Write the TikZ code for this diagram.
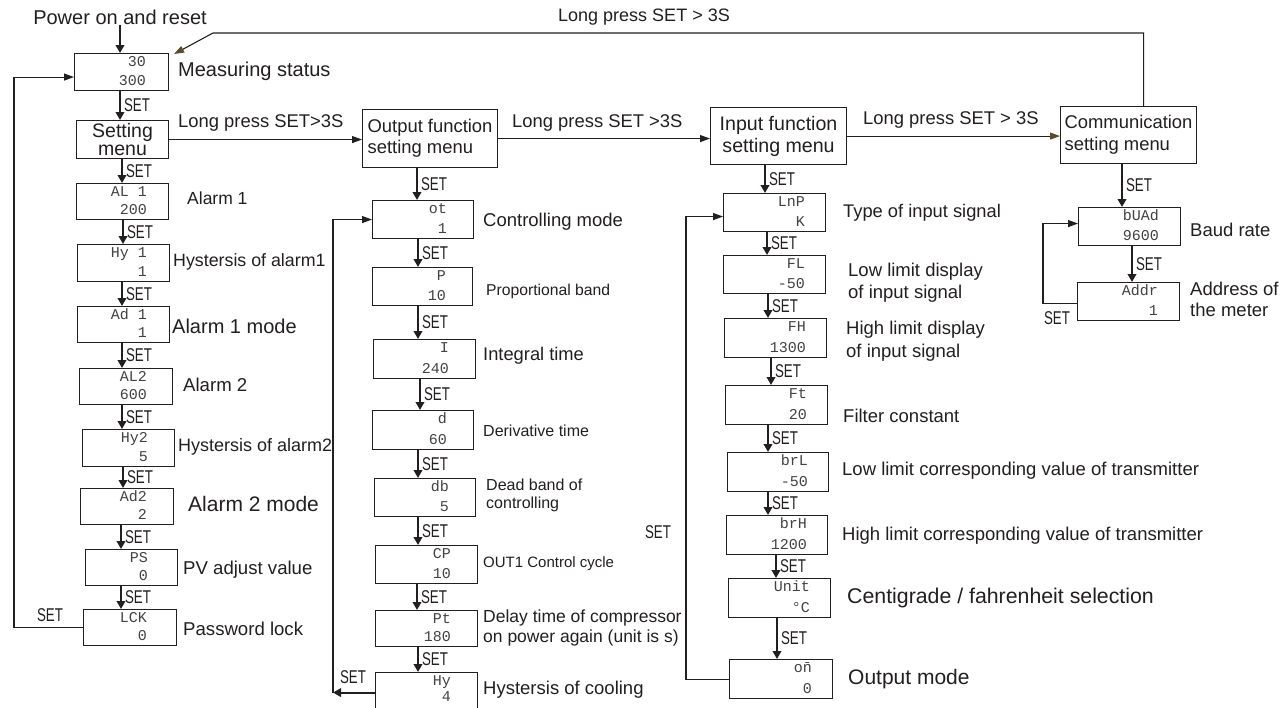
\documentclass[tikz,border=0pt]{standalone}
\usepackage{fontspec}
\setmainfont{Liberation Sans}
\newfontfamily\setfnt[FakeStretch=0.72]{Liberation Sans}
\newfontfamily\segfnt{Liberation Mono}
\usetikzlibrary{arrows.meta}
\newcommand\fs[2]{\fontsize{#1}{#2}\selectfont}
\definecolor{ink}{HTML}{231F20}
\definecolor{tipbrown}{HTML}{5B4A2B}
\tikzset{
  box/.style={draw=ink, line width=1.1pt, inner sep=0pt, anchor=north west, text=ink},
  seg/.style={inner sep=0pt, text=ink!85, font=\segfnt\fs{15}{15}},
  lbl/.style={inner sep=0pt, anchor=west, text=ink},
  setlbl/.style={inner sep=0pt, text=ink, font=\setfnt\fs{18.5}{18.5}},
  setarr/.style={draw=ink, line width=2pt, -{Triangle[length=8pt,width=8.5pt]}},
  thinarr/.style={draw=ink, line width=1.1pt, -{Triangle[length=10pt,width=7pt]}},
  brownarr/.style={draw=ink, line width=1.1pt, -{Triangle[length=10pt,width=7pt,fill=tipbrown,color=tipbrown]}},
  plain/.style={draw=ink, line width=1.1pt}
}
\begin{document}
\begin{tikzpicture}[x=1pt,y=-1pt]
\useasboundingbox[fill=white] (0,0) rectangle (1281,707);

% ---------- boxes ----------
\foreach \n/\x/\y/\w/\h in {
  ms/74/53/94/37, a1/76/183/92/36, h1/77/244/92/37, d1/77/306/92/36,
  a2/79/368/93/36, h2/82/429/92/37, d2/80/488/93/36, ps/85/549/92/36, lk/83/609/93/36,
  ot/372/200/101/38, pb/372/267/100/38, it/373/339/102/39, dt/372/410/101/39,
  db/374/478/101/38, cp/375/545/102/38, pt/375/610/102/36, hy/375/672/102/40,
  ln/723/193/102/38, fl/723/255/102/38, fh/724/318/102/39, ft/725/385/102/39,
  bl/727/452/101/39, bh/726/515/101/39, un/728/578/102/39, om/729/659/103/39,
  bd/1078/207/102/38, ad/1077/282/102/38}
  \node[box, minimum width=\w pt, minimum height=\h pt] (\n) at (\x,\y) {};

\node[box, minimum width=92pt, minimum height=38pt, align=center, font=\fs{19.5}{18}] (sm) at (76,120) {Setting\\menu};
\node[box, minimum width=135pt, minimum height=58pt, align=left, font=\fs{18.4}{21}] (of) at (362,109) {Output function\\setting menu};
\node[box, minimum width=136pt, minimum height=57pt, align=center, font=\fs{19.6}{22}] (if) at (710,107) {Input function\\setting menu};
\node[box, minimum width=136pt, minimum height=57pt, align=left, font=\fs{18.4}{22}] (cm) at (1060,106) {Communication\\setting menu};

% ---------- display texts (top line / bottom line, baselines from the box top) ----------
\foreach \n/\t/\b/\m/\bb in {
  ms/30/300/23/32, a1/AL 1/200/22/31, h1/Hy 1/1/23/32, d1/Ad 1/1/23/31, a2/AL2/600/26/31,
  h2/Hy2/5/27/32, d2/Ad2/2/27/31, ps/PS/0/30/31, lk/LCK/0/30/31,
  ot/ot/1/27/33, pb/P/10/27/33, it/I/240/27/34, dt/d/60/27/34, db/db/5/27/33, cp/CP/10/27/33,
  pt/Pt/180/27/31, hy/Hy/4/27/29,
  ln/LnP/K/21/33, fl/FL/-50/21/33, fh/FH/1300/21/34, ft/Ft/20/21/34, bl/brL/-50/21/34,
  bh/brH/1200/21/34, un/Unit/°C/21/34, om/{o\={n}}/0/21/34,
  bd/bUAd/9600/22/33, ad/Addr/1/22/33}
{
  \node[seg, anchor=base east] (\n-t) at ([xshift=-\m pt, yshift=-13pt]\n.north east) {\t};
  \node[seg, anchor=base east] (\n-b) at ([xshift=-\m pt, yshift=-\bb pt]\n.north east) {\b};
}

% ---------- SET arrows ----------
\node[inner sep=0pt, text=ink, font=\fs{20}{20}] (pw) at (120,17) {Power on and reset};
\draw[setarr] (pw.south) -- (pw.south |- ms.north);

\foreach \a/\b/\x in {
  ms/sm/120, sm/a1/122, a1/h1/123, h1/d1/122, d1/a2/122, a2/h2/122, h2/d2/123, d2/ps/121, ps/lk/121,
  of/ot/417, ot/pb/418, pb/it/418, it/dt/420, dt/db/418, db/cp/418, cp/pt/417, pt/hy/418,
  if/ln/765, ln/fl/767, fl/fh/768, fh/ft/771, ft/bl/768, bl/bh/768, bh/un/776, un/om/777,
  cm/bd/1122, bd/ad/1132}
  \draw[setarr] (\x,0 |- \a.south) -- node[setlbl, anchor=west, xshift=3pt] (set-\a) {SET} (\x,0 |- \b.north);

% ---------- loops ----------
\coordinate (l1) at (14,0);
\draw[thinarr] (lk.west) -- (lk.west -| l1) |- ([yshift=-5pt]ms.west);
\node[setlbl] (set-l1) at (50,615) {SET};

\coordinate (l2) at (333,0);
\draw[setarr] (hy.west) -- (hy.west -| l2);
\draw[thinarr] (hy.west -| l2) |- (ot.west);
\node[setlbl] (set-l2) at (353,677) {SET};

\coordinate (l3) at (686,0);
\draw[thinarr] (om.west) -- (om.west -| l3) |- ([yshift=-4pt]ln.west);
\node[setlbl] (set-l3) at (658,532) {SET};

\coordinate (l4) at (1043,0);
\draw[thinarr] ([yshift=-2pt]ad.west) -- ([yshift=-2pt]ad.west -| l4) |- ([yshift=3pt]bd.west);
\node[setlbl] (set-l4) at (1057,318) {SET};

% ---------- long press connectors ----------
\draw[thinarr] (sm.east) -- (sm.east -| of.west);
\node[lbl, font=\fs{18.4}{20}] (lp1) at (178,123) {Long press SET>3S};
\draw[thinarr] (of.east) -- (of.east -| if.west);
\node[lbl, font=\fs{18.4}{20}] (lp2) at (512,123) {Long press SET >3S};
\draw[brownarr] (if.east) -- (if.east -| cm.west);
\node[lbl, font=\fs{18.4}{20}] (lp3) at (863,120) {Long press SET > 3S};
\coordinate (t1) at (1143,33);
\coordinate (t2) at (213,33);
\draw[brownarr] ([xshift=15pt]cm.north) -- ([xshift=15pt]cm.north |- t1) -- (t2) -- ([xshift=5pt,yshift=-1pt]ms.north east);
\node[inner sep=0pt, text=ink, font=\fs{18}{20}] (lp4) at (644,17) {Long press SET > 3S};

% ---------- labels column 1 ----------
\node[lbl, font=\fs{20}{20}] (L-ms) at (178,71) {Measuring status};
\node[lbl, font=\fs{17.5}{20}] (L-a1) at (187,198) {Alarm 1};
\node[lbl, font=\fs{17.8}{20}] (L-h1) at (173,262) {Hystersis of alarm1};
\node[lbl, font=\fs{20}{20}] (L-d1) at (172,326) {Alarm 1 mode};
\node[lbl, font=\fs{18.6}{20}] (L-a2) at (183,385) {Alarm 2};
\node[lbl, font=\fs{18}{20}] (L-h2) at (178,447) {Hystersis of alarm2};
\node[lbl, font=\fs{21}{21}] (L-d2) at (188,504) {Alarm 2 mode};
\node[lbl, font=\fs{18.6}{20}] (L-ps) at (183,570) {PV adjust value};
\node[lbl, font=\fs{18.6}{20}] (L-lk) at (183,629) {Password lock};

% ---------- labels column 2 ----------
\node[lbl, font=\fs{18.5}{20}] (L-ot) at (483,222) {Controlling mode};
\node[lbl, font=\fs{15.7}{18}] (L-pb) at (486,291) {Proportional band};
\node[lbl, font=\fs{18.3}{20}] (L-it) at (483,356) {Integral time};
\node[lbl, font=\fs{16}{18}] (L-dt) at (483,431) {Derivative time};
\node[lbl, font=\fs{16}{18}, align=left] (L-db) at (486,495) {Dead band of\\controlling};
\node[lbl, font=\fs{15}{18}] (L-cp) at (483,564) {OUT1 Control cycle};
\node[lbl, font=\fs{17.5}{20}, align=left] (L-pt) at (483,628) {Delay time of compressor\\on power again (unit is s)};
\node[lbl, font=\fs{18.5}{20}] (L-hy) at (483,690) {Hystersis of cooling};

% ---------- labels column 3 ----------
\node[lbl, font=\fs{18.3}{20}] (L-ln) at (843,213) {Type of input signal};
\node[lbl, font=\fs{18.5}{22}, align=left] (L-fl) at (848,283) {Low limit display\\of input signal};
\node[lbl, font=\fs{18.5}{23}, align=left] (L-fh) at (846,341) {High limit display\\of input signal};
\node[lbl, font=\fs{18.5}{20}] (L-ft) at (843,416) {Filter constant};
\node[lbl, font=\fs{18.5}{20}] (L-bl) at (842,471) {Low limit corresponding value of transmitter};
\node[lbl, font=\fs{18.5}{20}] (L-bh) at (842,536) {High limit corresponding value of transmitter};
\node[lbl, font=\fs{21.3}{22}] (L-un) at (847,598) {Centigrade / fahrenheit selection};
\node[lbl, font=\fs{21}{22}] (L-om) at (848,679) {Output mode};

% ---------- labels column 4 ----------
\node[lbl, font=\fs{18.5}{20}] (L-bd) at (1190,230) {Baud rate};
\node[lbl, font=\fs{18.5}{21}, align=left] (L-ad) at (1190,299) {Address of\\the meter};
\end{tikzpicture}
\end{document}
